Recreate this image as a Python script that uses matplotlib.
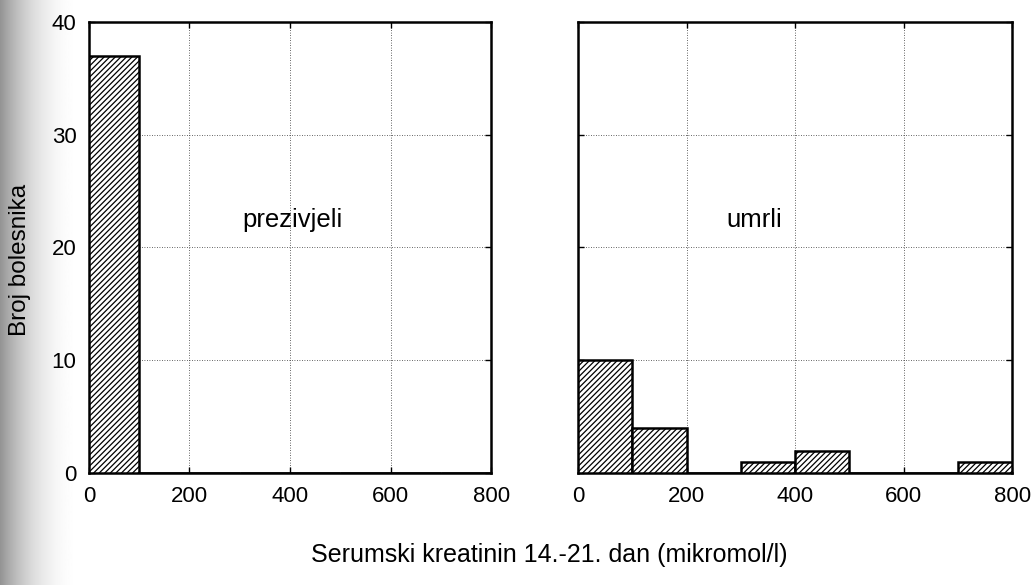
"""
Histogram of serum creatinine (day 14-21) for survivors vs deceased patients.
"""

import matplotlib.pyplot as plt
import numpy as np

plt.rcParams["font.family"] = ["Liberation Sans", "DejaVu Sans"]
plt.rcParams["hatch.linewidth"] = 0.9

# Bin edges (mikromol/l) and counts per group
BIN_EDGES = [0, 100, 200, 300, 400, 500, 600, 700, 800]
SURVIVED_COUNTS = [37, 0, 0, 0, 0, 0, 0, 0]
DIED_COUNTS = [10, 4, 0, 1, 2, 0, 0, 1]

X_TICKS = [0, 200, 400, 600, 800]
Y_TICKS = [0, 10, 20, 30, 40]

PANEL_LABELS = ["prezivjeli", "umrli"]
Y_LABEL = "Broj bolesnika"
X_LABEL = "Serumski kreatinin 14.-21. dan (mikromol/l)"


def draw_panel(ax, counts, label, label_x, show_yticks):
    edges = np.array(BIN_EDGES)
    ax.bar(
        edges[:-1],
        counts,
        width=np.diff(edges),
        align="edge",
        facecolor="white",
        edgecolor="black",
        linewidth=1.8,
        hatch="//////",
        zorder=3,
    )
    ax.set_xlim(0, 800)
    ax.set_ylim(0, 40)
    ax.set_xticks(X_TICKS)
    ax.set_yticks(Y_TICKS)
    ax.grid(True, linestyle=(0, (1, 2)), color="#333333", linewidth=0.6, zorder=0)
    ax.tick_params(direction="in", length=4, width=1, labelsize=16,
                   top=True, right=True, pad=9)
    if not show_yticks:
        ax.set_yticklabels([])
    for side in ax.spines.values():
        side.set_linewidth(1.8)
    ax.set_facecolor("white")
    ax.text(label_x, 22.4, label, fontsize=18.5, ha="center", va="center")


fig = plt.figure(figsize=(10.34, 5.85), dpi=100)

# scanner shading along the left edge of the page
bg = fig.add_axes([0, 0, 0.08, 1], zorder=-5)
t = np.linspace(0, 1, 128)
shade = 1.0 - 0.42 * (1.0 - t) ** 2.2
bg.imshow(shade[np.newaxis, :], cmap="gray", vmin=0, vmax=1,
          aspect="auto", extent=[0, 1, 0, 1], interpolation="bilinear")
bg.set_axis_off()

ax_left = fig.add_axes([0.086, 0.191, 0.389, 0.772])
ax_right = fig.add_axes([0.559, 0.191, 0.420, 0.772])

draw_panel(ax_left, SURVIVED_COUNTS, PANEL_LABELS[0], 404, True)
draw_panel(ax_right, DIED_COUNTS, PANEL_LABELS[1], 325, False)

fig.text(0.019, 0.556, Y_LABEL, fontsize=17.5, rotation=90,
         ha="center", va="center")
fig.text(0.531, 0.052, X_LABEL, fontsize=18, ha="center", va="center")

plt.savefig("out.png", dpi=100)
plt.close()
